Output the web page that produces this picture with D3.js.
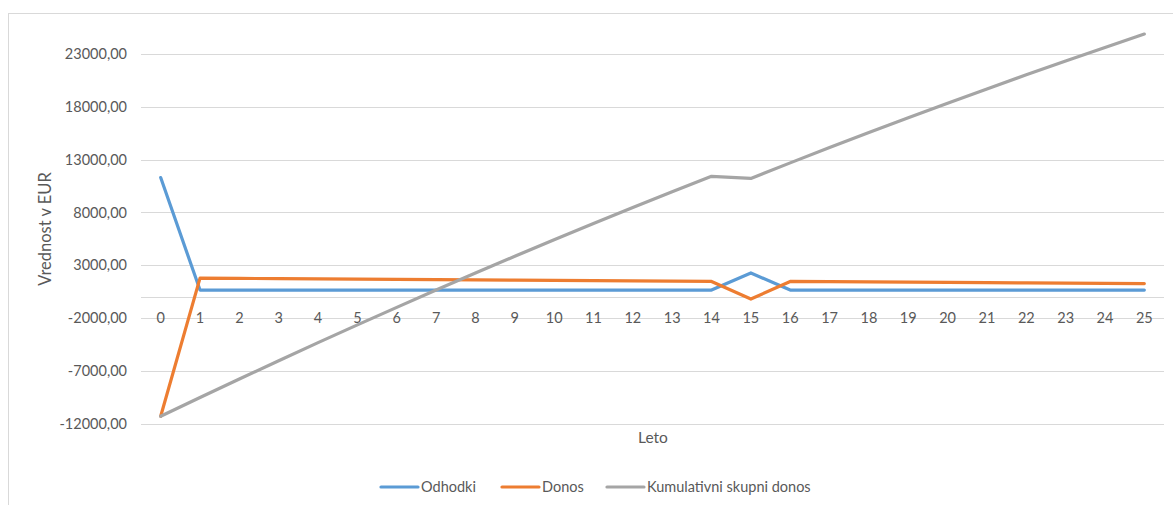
<!DOCTYPE html>
<html>
<head>
<meta charset="utf-8">
<script src="https://cdn.jsdelivr.net/npm/d3@7"></script>
<style>
  html, body { margin: 0; padding: 0; background: #fff; }
  svg { display: block; }
  text { font-family: Lato, "Open Sans", "Liberation Sans", sans-serif; fill: #595959; }
</style>
</head>
<body>
<svg id="chart" width="1173" height="505"></svg>
<script>
// Years of the investment period
const years = [0,1,2,3,4,5,6,7,8,9,10,11,12,13,14,15,16,17,18,19,20,21,22,23,24,25];

// Yearly expenses (EUR)
const odhodki = [11300,650,650,650,650,650,650,650,650,650,650,650,650,650,650,2270,650,650,650,650,650,650,650,650,650,650];

// Yearly net return (EUR)
const donos = [-11300,1779,1755,1731,1707,1683,1659,1635,1611,1587,1563,1539,1515,1491,1467,-200,1470,1447,1424,1401,1378,1355,1332,1309,1286,1263];

// Cumulative total return (EUR)
const kumulativa = [-11300,-9521,-7766,-6035,-4328,-2645,-986,649,2260,3847,5410,6949,8464,9955,11422,11222,12692,14139,15563,16964,18342,19697,21029,22338,23624,24887];

// Value axis ticks
const yTicks = [-12000,-7000,-2000,3000,8000,13000,18000,23000];

const seriesNames = ["Odhodki", "Donos", "Kumulativni skupni donos"];
const seriesColors = ["#5B9BD5", "#ED7D31", "#A5A5A5"];
const seriesValues = [odhodki, donos, kumulativa];

const svg = d3.select("#chart");
// two decimals, decimal comma, plain hyphen for negatives
const fmt = v => d3.format(".2f")(v).replace(".", ",").replace("\u2212", "-");

// chart frame
svg.append("rect")
  .attr("x", 8.5).attr("y", 13.5)
  .attr("width", 1200).attr("height", 600)
  .attr("fill", "none").attr("stroke", "#d9d9d9").attr("stroke-width", 1);

const plotLeft = 141, plotRight = 1164;
const x = d3.scaleBand().domain(years).range([plotLeft, plotRight]);
const cx = d => x(d) + x.bandwidth() / 2;
const y = d3.scaleLinear().domain([-12000, 23000]).range([423.7, 54]);

// horizontal gridlines
svg.append("g").selectAll("line")
  .data(yTicks).join("line")
  .attr("x1", plotLeft).attr("x2", plotRight)
  .attr("y1", d => Math.round(y(d)) + 0.5).attr("y2", d => Math.round(y(d)) + 0.5)
  .attr("stroke", "#d9d9d9").attr("stroke-width", 1);

// category axis line at zero
svg.append("line")
  .attr("x1", plotLeft).attr("x2", plotRight)
  .attr("y1", Math.round(y(0)) + 0.5).attr("y2", Math.round(y(0)) + 0.5)
  .attr("stroke", "#d9d9d9").attr("stroke-width", 1);

// value axis labels
const yAxis = d3.axisLeft(y).tickValues(yTicks).tickFormat(fmt).tickSize(0).tickPadding(0);
svg.append("g")
  .attr("transform", "translate(127,0)")
  .call(yAxis)
  .call(g => g.select(".domain").remove())
  .call(g => g.selectAll("text").attr("font-size", "14.5px").attr("fill", "#595959")
      .style("font-family", "Lato, 'Open Sans', sans-serif"));

// category axis labels
const xAxis = d3.axisBottom(x).tickSize(0).tickPadding(0);
svg.append("g")
  .attr("transform", "translate(0,313)")
  .call(xAxis)
  .call(g => g.select(".domain").remove())
  .call(g => g.selectAll("text").attr("font-size", "14.5px").attr("fill", "#595959")
      .attr("dy", "0.71em")
      .style("font-family", "Lato, 'Open Sans', sans-serif"));

// axis titles
svg.append("text")
  .attr("transform", `translate(51,229) rotate(-90)`)
  .attr("text-anchor", "middle")
  .attr("font-size", "16.5px")
  .text("Vrednost v EUR");

svg.append("text")
  .attr("x", 653).attr("y", 443)
  .attr("text-anchor", "middle")
  .attr("font-size", "15.5px")
  .text("Leto");

// series lines
const line = d3.line().x((d, i) => cx(years[i])).y(d => y(d));
svg.append("g").selectAll("path")
  .data(seriesValues).join("path")
  .attr("d", d => line(d))
  .attr("fill", "none")
  .attr("stroke", (d, i) => seriesColors[i])
  .attr("stroke-width", 3.2)
  .attr("stroke-linejoin", "round")
  .attr("stroke-linecap", "round");

// legend
const legendItems = [
  { x: 381, name: seriesNames[0], color: seriesColors[0] },
  { x: 502, name: seriesNames[1], color: seriesColors[1] },
  { x: 607, name: seriesNames[2], color: seriesColors[2] }
];
const lg = svg.append("g").selectAll("g").data(legendItems).join("g")
  .attr("transform", d => `translate(${d.x},487)`);
lg.append("line")
  .attr("x1", 0).attr("x2", 37).attr("y1", 0).attr("y2", 0)
  .attr("stroke", d => d.color).attr("stroke-width", 3.2)
  .attr("stroke-linecap", "round");
lg.append("text")
  .attr("x", 40).attr("y", 0).attr("dy", "0.35em")
  .attr("font-size", "14.5px")
  .text(d => d.name);
</script>
</body>
</html>
